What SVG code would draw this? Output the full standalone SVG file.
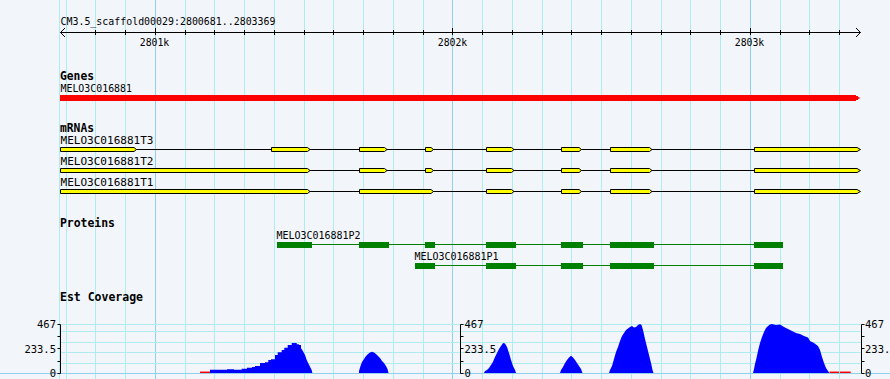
<svg xmlns="http://www.w3.org/2000/svg" width="890" height="379" viewBox="0 0 890 379">
<style>
.bg{fill:#f2f5fa}
.grid line{stroke:#aeecf0;stroke-width:1}
.grid line.major{stroke:#8fd0ee}
.hgrid line{stroke:#aeecf0;stroke-width:1}
.t{font-family:'DejaVu Sans Mono','Liberation Mono',monospace;font-size:11px;fill:#000}
.b{font-family:'DejaVu Sans Mono','Liberation Mono',monospace;font-size:11.5px;font-weight:bold;fill:#000}
.ax{font-family:'DejaVu Sans Mono','Liberation Mono',monospace;font-size:10.5px;fill:#000}
.blk{stroke:#000;stroke-width:1;fill:none}
.exon{fill:#ffff00;stroke:#000;stroke-width:1}
.intron{stroke:#000;stroke-width:1}
.cds{fill:#008000}
.pline{stroke:#008000;stroke-width:1}
.cov{fill:#0000ff}
.zero{stroke:#ff0000;stroke-width:1.5}
</style>
<rect class="bg" x="0" y="0" width="890" height="379"/>
<g class="grid">
<line x1="59.5" y1="0" x2="59.5" y2="379"/>
<line x1="66.5" y1="0" x2="66.5" y2="379"/>
<line x1="95.5" y1="0" x2="95.5" y2="379"/>
<line x1="125.5" y1="0" x2="125.5" y2="379"/>
<line class="major" x1="155.5" y1="0" x2="155.5" y2="379"/>
<line x1="185.5" y1="0" x2="185.5" y2="379"/>
<line x1="214.5" y1="0" x2="214.5" y2="379"/>
<line x1="244.5" y1="0" x2="244.5" y2="379"/>
<line x1="274.5" y1="0" x2="274.5" y2="379"/>
<line x1="304.5" y1="0" x2="304.5" y2="379"/>
<line x1="333.5" y1="0" x2="333.5" y2="379"/>
<line x1="363.5" y1="0" x2="363.5" y2="379"/>
<line x1="393.5" y1="0" x2="393.5" y2="379"/>
<line x1="423.5" y1="0" x2="423.5" y2="379"/>
<line class="major" x1="452.5" y1="0" x2="452.5" y2="379"/>
<line x1="482.5" y1="0" x2="482.5" y2="379"/>
<line x1="512.5" y1="0" x2="512.5" y2="379"/>
<line x1="542.5" y1="0" x2="542.5" y2="379"/>
<line x1="571.5" y1="0" x2="571.5" y2="379"/>
<line x1="601.5" y1="0" x2="601.5" y2="379"/>
<line x1="631.5" y1="0" x2="631.5" y2="379"/>
<line x1="661.5" y1="0" x2="661.5" y2="379"/>
<line x1="690.5" y1="0" x2="690.5" y2="379"/>
<line x1="720.5" y1="0" x2="720.5" y2="379"/>
<line class="major" x1="750.5" y1="0" x2="750.5" y2="379"/>
<line x1="780.5" y1="0" x2="780.5" y2="379"/>
<line x1="809.5" y1="0" x2="809.5" y2="379"/>
<line x1="839.5" y1="0" x2="839.5" y2="379"/>
</g>
<g id="ruler">
<text class="t" x="60.5" y="24.5" textLength="215" lengthAdjust="spacingAndGlyphs">CM3.5_scaffold00029:2800681..2803369</text>
<line class="blk" x1="60.5" y1="32.5" x2="860.5" y2="32.5"/>
<polyline class="blk" points="65,28 60.5,32.5 65,37"/>
<polyline class="blk" points="856,28 860.5,32.5 856,37"/>
<path class="blk" d="M95.5 30v5M125.5 30v5M155.5 28v7M185.5 30v5M214.5 30v5M244.5 30v5M274.5 30v5M304.5 30v5M333.5 30v5M363.5 30v5M393.5 30v5M423.5 30v5M452.5 28v7M482.5 30v5M512.5 30v5M542.5 30v5M571.5 30v5M601.5 30v5M631.5 30v5M661.5 30v5M690.5 30v5M720.5 30v5M750.5 28v7M780.5 30v5M809.5 30v5M839.5 30v5"/>
<text class="t" x="154.5" y="45.5" text-anchor="middle" textLength="29.5" lengthAdjust="spacingAndGlyphs">2801k</text>
<text class="t" x="452.5" y="45.5" text-anchor="middle" textLength="29.5" lengthAdjust="spacingAndGlyphs">2802k</text>
<text class="t" x="749.5" y="45.5" text-anchor="middle" textLength="29.5" lengthAdjust="spacingAndGlyphs">2803k</text>
</g>
<g id="genes">
<text class="b" x="60" y="79.5" textLength="34" lengthAdjust="spacingAndGlyphs">Genes</text>
<text class="t" x="60.5" y="92" textLength="71.5" lengthAdjust="spacingAndGlyphs">MELO3C016881</text>
<polygon fill="#ff0000" points="60,95 856,95 856,96 858,96 858,97 860.7,98 858,99 858,100 856,100 856,101 60,101"/>
</g>
<g id="mrnas">
<text class="b" x="60" y="132" textLength="34" lengthAdjust="spacingAndGlyphs">mRNAs</text>
</g>
<g id="T3">
<text class="t" x="60.5" y="144" textLength="93" lengthAdjust="spacingAndGlyphs">MELO3C016881T3</text>
<line class="intron" x1="60" y1="149.5" x2="860" y2="149.5"/>
<g class="exon" transform="translate(0,147.5)">
<polygon points="60.5,0 134,0 136.5,2 134,4 60.5,4"/>
<polygon points="271.5,0 307.5,0 310,2 307.5,4 271.5,4"/>
<polygon points="359.5,0 384.5,0 387,2 384.5,4 359.5,4"/>
<polygon points="425.5,0 431,0 433.5,2 431,4 425.5,4"/>
<polygon points="486.5,0 511.5,0 514,2 511.5,4 486.5,4"/>
<polygon points="561.5,0 579,0 581.5,2 579,4 561.5,4"/>
<polygon points="610.5,0 649.5,0 652,2 649.5,4 610.5,4"/>
<polygon points="754.5,0 857,0 860.5,2 857,4 754.5,4"/>
</g>
</g>
<g id="T2">
<text class="t" x="60.5" y="165" textLength="93" lengthAdjust="spacingAndGlyphs">MELO3C016881T2</text>
<line class="intron" x1="60" y1="170.5" x2="860" y2="170.5"/>
<g class="exon" transform="translate(0,168.5)">
<polygon points="60.5,0 307.5,0 310,2 307.5,4 60.5,4"/>
<polygon points="359.5,0 384.5,0 387,2 384.5,4 359.5,4"/>
<polygon points="425.5,0 431,0 433.5,2 431,4 425.5,4"/>
<polygon points="486.5,0 511.5,0 514,2 511.5,4 486.5,4"/>
<polygon points="561.5,0 579,0 581.5,2 579,4 561.5,4"/>
<polygon points="610.5,0 649.5,0 652,2 649.5,4 610.5,4"/>
<polygon points="754.5,0 857,0 860.5,2 857,4 754.5,4"/>
</g>
</g>
<g id="T1">
<text class="t" x="60.5" y="186" textLength="93" lengthAdjust="spacingAndGlyphs">MELO3C016881T1</text>
<line class="intron" x1="60" y1="191.5" x2="860" y2="191.5"/>
<g class="exon" transform="translate(0,189.5)">
<polygon points="60.5,0 307.5,0 310,2 307.5,4 60.5,4"/>
<polygon points="359.5,0 431,0 433.5,2 431,4 359.5,4"/>
<polygon points="486.5,0 511.5,0 514,2 511.5,4 486.5,4"/>
<polygon points="561.5,0 579,0 581.5,2 579,4 561.5,4"/>
<polygon points="610.5,0 649.5,0 652,2 649.5,4 610.5,4"/>
<polygon points="754.5,0 857,0 860.5,2 857,4 754.5,4"/>
</g>
</g>
<g id="proteins">
<text class="b" x="60" y="227" textLength="55" lengthAdjust="spacingAndGlyphs">Proteins</text>
</g>
<g id="P2">
<text class="t" x="276.5" y="239" textLength="84" lengthAdjust="spacingAndGlyphs">MELO3C016881P2</text>
<line class="pline" x1="277" y1="244.5" x2="783" y2="244.5"/>
<g class="cds">
<rect x="277" y="242" width="35" height="6"/>
<rect x="359" y="242" width="30" height="6"/>
<rect x="425" y="242" width="10" height="6"/>
<rect x="486" y="242" width="30" height="6"/>
<rect x="561" y="242" width="22" height="6"/>
<rect x="610" y="242" width="44" height="6"/>
<rect x="754" y="242" width="29" height="6"/>
</g>
</g>
<g id="P1">
<text class="t" x="414.5" y="259.5" textLength="84" lengthAdjust="spacingAndGlyphs">MELO3C016881P1</text>
<line class="pline" x1="415" y1="265.5" x2="783" y2="265.5"/>
<g class="cds">
<rect x="415" y="263" width="20" height="6"/>
<rect x="486" y="263" width="30" height="6"/>
<rect x="561" y="263" width="22" height="6"/>
<rect x="610" y="263" width="44" height="6"/>
<rect x="754" y="263" width="29" height="6"/>
</g>
</g>
<g id="coverage">
<text class="b" x="60" y="301" textLength="83" lengthAdjust="spacingAndGlyphs">Est Coverage</text>
<g class="hgrid">
<line x1="60" y1="324.5" x2="861" y2="324.5"/>
<line x1="60" y1="331.5" x2="861" y2="331.5"/>
<line x1="60" y1="342.5" x2="861" y2="342.5"/>
<line x1="60" y1="352.5" x2="861" y2="352.5"/>
<line x1="60" y1="363.5" x2="861" y2="363.5"/>
</g>
<line x1="0" y1="373.5" x2="890" y2="373.5" stroke="#8fd0ee" stroke-width="1"/>
<g class="cov">
<polygon points="210,373 210,369.7 227,369.7 227,369.3 234,369.3 234,369.7 241.7,369.7 241.7,368.7 247,368.7 247,367.7 252,367.7 252,367 255,367 255,366 260,366 260,363 265,363 265,362.3 268.3,362.3 268.3,360 271,360 271,359.3 275,359.3 275,355 277.7,355 277.7,352.3 281.7,352.3 281.7,350 284.3,350 284.3,347.7 287.7,347.7 287.7,345 291.7,345 291.7,343 296.7,343 296.7,344.3 299,344.3 299,345 301,345 301,348.3 302.3,350 305,355 306.7,360 308.3,363.3 310,366.7 311.7,370 312.3,373"/>
<polygon points="359,373 359,371 360.5,366 362,362 364,359 366,356 368,354 370,352.5 372,351.7 374,352.5 376,354 378,356 380,358 382,361 384,363 386,366 387.5,369 388.5,373"/>
<polygon points="484,373 485,371 487,370 489,368 491,365 493,361.7 495,357 497,353 499,349 501,346 503,343 505,343.5 507,347 509,353 511,360 513,366 515,370 516,373"/>
<polygon points="560,373 561,370 563,367 565,363 567,360 569,357.5 571,355.7 573,357.5 575,360 577,363 579,366 581,369 582.5,373"/>
<polygon points="609,373 610,370 612,366 614,359 616,352 618,347 620,341 622,336 624,333 626,330 628,328.5 630,327 632,326 634,327.5 636,327 638,325 640,324 641.5,325 643,330 645,339 647,347 649,355 651,363 652.5,370 653.5,373"/>
<polygon points="753,373 754,369 755,364 756.5,358 758,351 760,343 762,337 764,332 766,328 768,326 770,324.5 772,324 776,325 780,324.5 784,327 788,329 792,331 796,333 800,334 804,336 808,337.5 810,341 814,343 818,346 820,350 822,357 824,363 826,368 828,371 829.5,373"/>
</g>
<g>
<line class="zero" x1="200" y1="372.3" x2="210" y2="372.3"/>
<line class="zero" x1="829.5" y1="372.3" x2="839" y2="372.3"/>
<line class="zero" x1="840" y1="372.3" x2="850.7" y2="372.3"/>
</g>
<g id="axis-left">
<path class="blk" d="M60.5 324.5v49M57.5 324.5h3M57.5 336.5h3M57.5 348.5h3M57.5 361.5h3M57.5 373.5h3"/>
<text class="ax" x="56" y="328" text-anchor="end">467</text>
<text class="ax" x="56" y="352.5" text-anchor="end">233.5</text>
<text class="ax" x="56" y="376.5" text-anchor="end">0</text>
</g>
<g id="axis-mid">
<path class="blk" d="M460.5 324.5v49M460.5 324.5h3M460.5 336.5h3M460.5 348.5h3M460.5 361.5h3M460.5 373.5h3"/>
<text class="ax" x="464.5" y="328">467</text>
<text class="ax" x="464.5" y="352.5">233.5</text>
<text class="ax" x="464.5" y="376.5">0</text>
</g>
<g id="axis-right">
<path class="blk" d="M861.5 324.5v49M861.5 324.5h3M861.5 336.5h3M861.5 348.5h3M861.5 361.5h3M861.5 373.5h3"/>
<text class="ax" x="865" y="328">467</text>
<text class="ax" x="865" y="352.5">233.5</text>
<text class="ax" x="865" y="376.5">0</text>
</g>
</g>
</svg>
